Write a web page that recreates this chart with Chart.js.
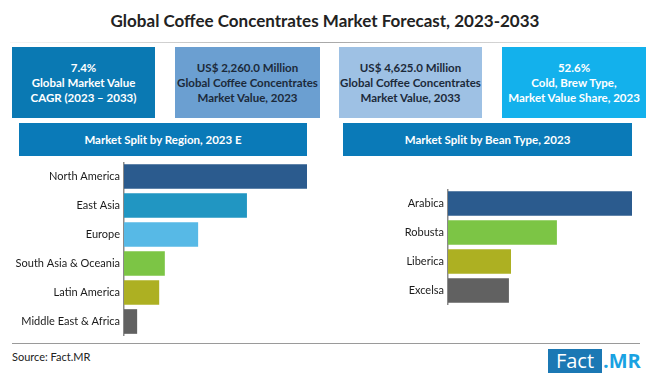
<!DOCTYPE html>
<html>
<head>
<meta charset="utf-8">
<script src="https://cdn.jsdelivr.net/npm/chart.js@4.4.0/dist/chart.umd.min.js"></script>
<style>
  html, body { margin: 0; padding: 0; background: #fff; }
  body { width: 650px; height: 377px; position: relative; overflow: hidden; font-family: "Lato", "Liberation Sans", sans-serif; }
  .abs { position: absolute; }
  #title { left: 0; top: 10px; width: 650px; text-align: center; font-size: 17px; font-weight: bold; color: #222; }
  #titleLine { left: 10px; top: 42px; width: 630px; height: 1px; background: linear-gradient(to right, rgba(170,170,170,0.1), #a8a8a8 50%, rgba(170,170,170,0.1)); }
  .kpi { top: 47px; height: 71px; display: flex; align-items: center; justify-content: center; text-align: center; font-size: 11.5px; font-weight: bold; line-height: 15px; }
  .hdr { top: 123px; height: 33px; background: #0a7ab8; color: #fff; font-size: 11.5px; font-weight: bold; display: flex; align-items: center; justify-content: center; }
  #bottomLine { left: 12px; top: 343px; width: 628px; height: 1px; background: #9a9a9a; }
  #source { left: 12px; top: 350px; font-size: 11px; color: #222; }
  #logoFact { left: 548px; top: 349px; width: 54px; height: 24px; background: #1b78b4; color: #fff; font-size: 20px; line-height: 24px; text-align: center; font-family: "Open Sans", sans-serif; }
  #logoMR { left: 603px; top: 349px; height: 24px; color: #1aa2e2; font-size: 20px; line-height: 24px; font-weight: bold; font-family: "Open Sans", sans-serif; }
</style>
</head>
<body>
<div id="title" class="abs">Global Coffee Concentrates Market Forecast, 2023-2033</div>
<div id="titleLine" class="abs"></div>

<div class="abs kpi" style="left:12px;width:143px;background:#0a79b3;color:#fff;">7.4%<br>Global Market Value<br>CAGR (2023 – 2033)</div>
<div class="abs kpi" style="left:175px;width:145px;background:#6b9fd1;color:#1c2a3a;">US$ 2,260.0 Million<br>Global Coffee Concentrates<br>Market Value, 2023</div>
<div class="abs kpi" style="left:339px;width:143px;background:#9ec1e4;color:#1c2a3a;">US$ 4,625.0 Million<br>Global Coffee Concentrates<br>Market Value, 2033</div>
<div class="abs kpi" style="left:502px;width:144px;background:#13b1ec;color:#fff;">52.6%<br>Cold, Brew Type,<br>Market Value Share, 2023</div>

<div class="abs hdr" style="left:19px;width:288px;">Market Split by Region, 2023 E</div>
<div class="abs hdr" style="left:343px;width:289px;">Market Split by Bean Type, 2023</div>

<div class="abs" style="left:0;top:162px;width:310px;height:174px;"><canvas id="regionChart"></canvas></div>
<div class="abs" style="left:330px;top:189px;width:302px;height:116px;"><canvas id="beanChart"></canvas></div>

<div id="bottomLine" class="abs"></div>
<div id="source" class="abs">Source: Fact.MR</div>
<div id="logoFact" class="abs">Fact</div>
<div id="logoMR" class="abs">.MR</div>

<script>
// market share estimates (%)
const regionLabels = ["North America", "East Asia", "Europe", "South Asia & Oceania", "Latin America", "Middle East & Africa"];
const regionShare = [39.0, 26.2, 15.8, 8.7, 7.5, 2.8];
const regionColors = ["#2b5b8e", "#2196c2", "#57b9e6", "#7cc545", "#adb022", "#616161"];

const beanLabels = ["Arabica", "Robusta", "Liberica", "Excelsa"];
const beanShare = [44.1, 26.1, 15.1, 14.6];
const beanColors = ["#2b5b8e", "#7cc545", "#adb022", "#616161"];

function makeChart(canvas, labels, values, colors, axisWidth, maxVal, padRight) {
  return new Chart(canvas, {
    type: "bar",
    data: {
      labels: labels,
      datasets: [{
        data: values,
        backgroundColor: colors,
        borderWidth: 0,
        barPercentage: 0.85,
        categoryPercentage: 1.0
      }]
    },
    options: {
      indexAxis: "y",
      responsive: true,
      maintainAspectRatio: false,
      animation: false,
      layout: { padding: { left: 0, top: 0, bottom: 0, right: padRight } },
      plugins: {
        legend: { display: false },
        tooltip: { enabled: false }
      },
      scales: {
        x: {
          display: false,
          min: 0,
          max: maxVal
        },
        y: {
          grid: { display: false, drawTicks: false },
          border: { display: true, color: "#8a8a8a", width: 1.5 },
          ticks: {
            color: "#1a1a1a",
            padding: 4,
            font: { size: 11, family: "Lato" }
          },
          afterFit: (scale) => {
            scale.width = axisWidth;
            // no extra label padding, bands fill the whole height
            scale.paddingTop = 0;
            scale.paddingBottom = 0;
          }
        }
      }
    }
  });
}

makeChart(document.getElementById("regionChart"), regionLabels, regionShare, regionColors, 124, 39.0, 3);
makeChart(document.getElementById("beanChart"), beanLabels, beanShare, beanColors, 118, 44.1, 0);
</script>
</body>
</html>
